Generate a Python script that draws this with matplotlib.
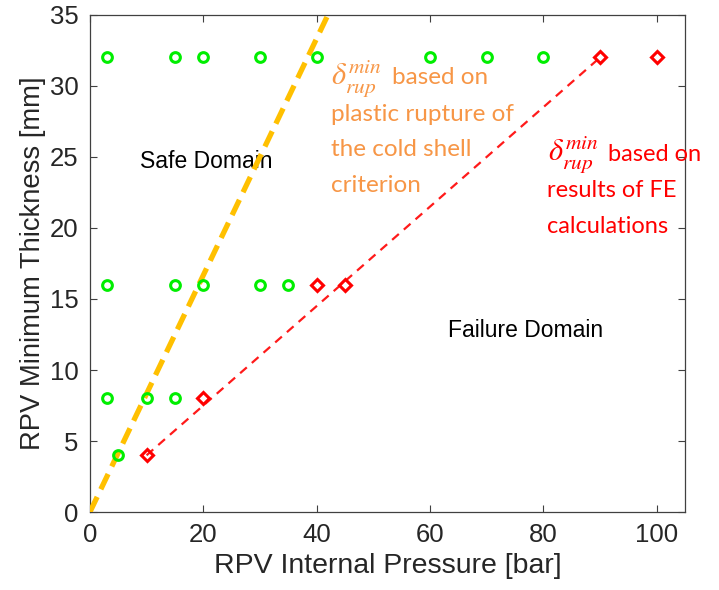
import matplotlib
matplotlib.use("Agg")
import matplotlib.pyplot as plt

# Safe (green circles)
safe_pressure = [3, 15, 20, 30, 40, 60, 70, 80, 3, 15, 20, 30, 35, 3, 10, 15, 5]
safe_thickness = [32, 32, 32, 32, 32, 32, 32, 32, 16, 16, 16, 16, 16, 8, 8, 8, 4]
# Failure (red diamonds)
fail_pressure = [10, 20, 40, 45, 90, 100]
fail_thickness = [4, 8, 16, 16, 32, 32]
# Criterion lines
cold_shell_pressure = [0, 42]
cold_shell_thickness = [0, 35]
fe_pressure = [10, 90]
fe_thickness = [4, 32]

xticks = [0, 20, 40, 60, 80, 100]
yticks = [0, 5, 10, 15, 20, 25, 30, 35]

plt.rcParams['font.family'] = ['Liberation Sans', 'DejaVu Sans']
plt.rcParams['mathtext.fontset'] = 'stix'
fig = plt.figure(figsize=(7.19, 5.9), dpi=100)
ax = fig.add_axes([0.125, 0.132, 0.828, 0.843])

ax.text(8.9, 24.7, 'Safe Domain', fontsize=16.5, color='black', va='center', ha='left', zorder=1)
ax.text(63.2, 12.8, 'Failure Domain', fontsize=16.5, color='black', va='center', ha='left', zorder=1)

ax.plot(cold_shell_pressure, cold_shell_thickness, color='#FFC000', lw=3.8,
        dashes=(3.2, 1.6), zorder=3)
ax.plot(fe_pressure, fe_thickness, color='#FF1A1A', lw=1.6, dashes=(4, 3), zorder=3)
ax.plot(safe_pressure, safe_thickness, 'o', ms=7, mfc='none', mec='#00EE00', mew=2.2,
        ls='none', zorder=4)
ax.plot(fail_pressure, fail_thickness, 'D', ms=6.5, mfc='none', mec='#FF0000', mew=2.2,
        ls='none', zorder=4)

ax.set_xlim(0, 105)
ax.set_ylim(0, 35)
ax.set_xticks(xticks)
ax.set_yticks(yticks)
ax.tick_params(direction='in', top=True, right=True, length=5, width=0.8,
               color='#404040', labelsize=18.5, labelcolor='#262626', pad=8)
for s in ax.spines.values():
    s.set_color('#404040')
    s.set_linewidth(0.9)
ax.set_xlabel('RPV Internal Pressure [bar]', fontsize=20.5, color='#262626', labelpad=4)
ax.set_ylabel('RPV Minimum Thickness [mm]', fontsize=19.7, color='#262626', labelpad=3)

delta = r'$\delta_{rup}^{min}$'
ofont = dict(family=['Lato', 'DejaVu Sans'], fontsize=17.5)
orange = '#F79646'
ax.text(42.6, 30.5, delta, color=orange, va='center', ha='left', fontsize=22)
ax.text(53.3, 30.6, 'based on', color=orange, va='center', ha='left', **ofont)
ax.text(42.5, 28.0, 'plastic rupture of', color=orange, va='center', ha='left', **ofont)
ax.text(42.5, 25.5, 'the cold shell', color=orange, va='center', ha='left', **ofont)
ax.text(42.5, 23.0, 'criterion', color=orange, va='center', ha='left', **ofont)

red = '#FF0000'
rfont = dict(family=['Lato', 'DejaVu Sans'], fontsize=17)
ax.text(80.8, 25.1, delta, color=red, va='center', ha='left', fontsize=22)
ax.text(91.4, 25.2, 'based on', color=red, va='center', ha='left', **rfont)
ax.text(80.7, 22.6, 'results of FE', color=red, va='center', ha='left', **rfont)
ax.text(80.7, 20.1, 'calculations', color=red, va='center', ha='left', **rfont)

fig.savefig('out.png', dpi=100)
